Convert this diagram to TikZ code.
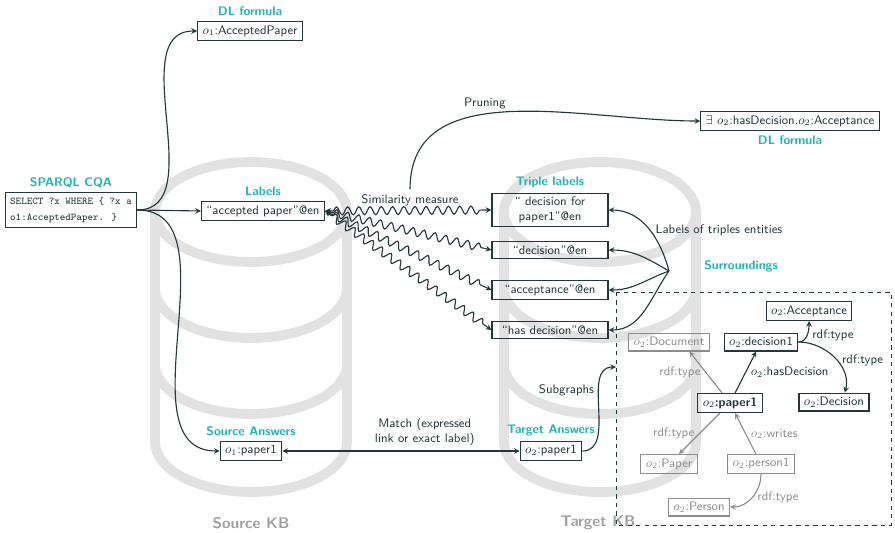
\documentclass[tikz,border=0pt]{standalone}
\usepackage{fontspec}
\usetikzlibrary{arrows, decorations.pathmorphing}
\renewcommand{\familydefault}{\sfdefault}

\definecolor{mdark}{HTML}{23373B}
\definecolor{mteal}{HTML}{21B2B2}
\definecolor{kbgrey}{HTML}{E2E2E2}
\definecolor{kbtext}{HTML}{A0A0A0}
\definecolor{nodegrey}{HTML}{8C8C8C}

\tikzstyle{entity} = [
    rectangle,
    draw=mdark,
    text=mdark,
    line width=0.8pt,
    inner xsep=3.5pt,
    inner ysep=2.8pt
]
\tikzstyle{greyentity} = [
    entity,
    draw=nodegrey,
    text=nodegrey
]
\tikzstyle{triple} = [
    entity,
    minimum width=2.9cm,
    align=center
]
\tikzstyle{query} = [
    entity,
    align=left,
    font=\ttfamily\fontsize{7.4}{12}\selectfont
]
\tikzstyle{heading} = [
    text=mteal,
    font=\fontsize{8.8}{10.5}\selectfont\bfseries
]
\tikzstyle{kbname} = [
    text=kbtext,
    font=\fontsize{11}{13}\selectfont\bfseries
]
\tikzstyle{kbcyl} = [draw=kbgrey, line width=7pt]
\tikzstyle{arrow} = [line width=0.8pt, draw=mdark, ->, >=stealth]
\tikzstyle{greyarrow} = [arrow, draw=nodegrey, text=nodegrey]
\tikzstyle{wiggle} = [
    arrow, <->,
    decorate,
    decoration={snake, amplitude=0.1cm, segment length=0.28cm,
        pre length=2mm, post length=2mm}
]

\begin{document}
\begin{tikzpicture}[x=0.025cm, y=-0.025cm, node distance=1cm,
    font=\fontsize{8.8}{10.5}\selectfont, text=mdark]

\useasboundingbox (0,0) rectangle (895,533);

% knowledge bases
\foreach \cx in {251,600} {
    \draw [kbcyl] (\cx,212) ellipse [x radius=96, y radius=50];
    \draw [kbcyl] (\cx-96,212) -- (\cx-96,442)
        arc [start angle=180, end angle=0, x radius=96, y radius=50]
        -- (\cx+96,212);
    \draw [kbcyl] (\cx-96,288) arc [start angle=180, end angle=0, x radius=96, y radius=50];
    \draw [kbcyl] (\cx-96,364) arc [start angle=180, end angle=0, x radius=96, y radius=50];
}
\node (srckb) [kbname] at (251,523) {Source KB};
\node (tgtkb) [kbname] at (598,523) {Target KB};

\node (sparql) [query, label={[heading]above:SPARQL CQA}] at (71,210)
{SELECT ?x WHERE \{ ?x a\\o1:AcceptedPaper. \}};

\node (dl1) [entity, label={[heading]above:DL formula}] at (250,31)
{$o_1$:AcceptedPaper};

\node (lab) [entity, label={[heading]above:Labels}] at (263,211)
{``accepted paper''@en};

\node (sa) [entity, label={[heading]above:Source Answers}] at (251,451)
{$o_1$:paper1};

\node (ta) [entity, label={[heading]above:Target Answers}] at (551,451)
{$o_2$:paper1};

\node (t1) [triple, label={[heading]above:Triple labels}] at (550,210)
{``{} decision for\\paper1''@en};
\node (t2) [triple, below of=t1] {``decision''@en};
\node (t3) [triple, below of=t2] {``acceptance''@en};
\node (t4) [triple, below of=t3] {``has decision''@en};

\node (sim) at (410,200) {Similarity measure};

\node (dl2) [entity, label={[heading]below:DL formula}] at (790,121)
{$\exists$ $o_2$:hasDecision.$o_2$:Acceptance};

\coordinate (surr) at (669,271);
\node (entlab) at (719,230) {Labels of triples entities};
\node (surrtitle) [heading] at (741,266) {Surroundings};

% surroundings of o2:paper1
\draw [mdark, dashed, line width=0.7pt] (616,292) rectangle (891,525);
\coordinate (sub) at (616,367);

\node (acc) [entity] at (809,311) {$o_2$:Acceptance};
\node (dec1) [entity] at (761,342) {$o_2$:decision1};
\node (doc) [greyentity] at (669,342) {$o_2$:Document};
\node (pp) [entity] at (730,403) {$o_2$\textbf{:paper1}};
\node (decn) [entity] at (834,402) {$o_2$:Decision};
\node (pap) [greyentity] at (669,464) {$o_2$:Paper};
\node (p1) [greyentity] at (761,464) {$o_2$:person1};
\node (pers) [greyentity] at (699,507) {$o_2$:Person};

\draw [arrow] (sparql.east) to[out=0,in=180] (dl1.west);
\draw [arrow] (sparql.east) -- (lab.west);
\draw [arrow] (sparql.east) to[out=0,in=180] (sa.west);

\foreach \t in {t1,t2,t3,t4}
    \draw [wiggle] (lab.east) -- (\t.west);

\draw [arrow] (sim.north) to[out=90,in=180]
    node[pos=0.42, above]{Pruning} (dl2.west);

\draw [arrow] (surr) to[out=105,in=0] (t1.east);
\draw [arrow] (surr) to[out=150,in=0] (t2.east);
\draw [arrow] (surr) to[out=200,in=0] (t3.east);
\draw [arrow] (surr) to[out=235,in=0] (t4.east);

\draw [arrow, <->] (sa.east) -- node[pos=0.6, above, align=center]
    {Match (expressed\\link or exact label)} (ta.west);

\draw [arrow] (ta.east) to[out=0,in=180]
    node[pos=0.65, left]{Subgraphs} (sub);

\draw [arrow] (pp) -- node[right]{$o_2$:hasDecision} (dec1);
\draw [arrow] (dec1.east) to[out=0,in=-90]
    node[right]{rdf:type} (acc.south);
\draw [arrow] (dec1.east) to[out=0,in=75]
    node[pos=0.55, right]{rdf:type} ([xshift=0.27cm]decn.north);
\draw [greyarrow] (pp) -- node[left]{rdf:type} (doc.-25);
\draw [greyarrow] (pp) -- node[left]{rdf:type} (pap);
\draw [greyarrow] (p1) -- node[right]{$o_2$:writes} (pp);
\draw [greyarrow] (p1.south) to[out=-90,in=0]
    node[right]{rdf:type} (pers.east);

\end{tikzpicture}
\end{document}
